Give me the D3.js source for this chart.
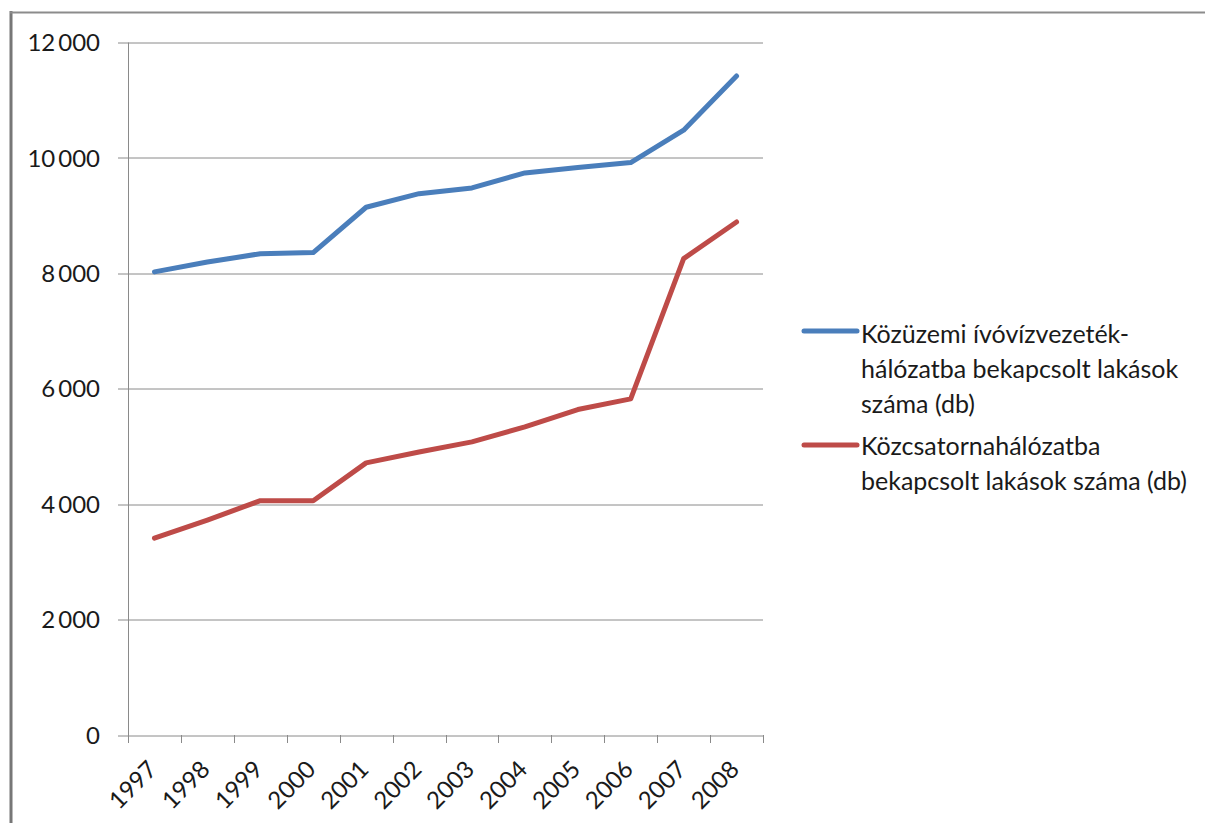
<!DOCTYPE html>
<html>
<head>
<meta charset="utf-8">
<script src="https://cdn.jsdelivr.net/npm/d3@7"></script>
<style>
  body { margin: 0; background: #fff; }
  text { font-family: Lato, "Open Sans", sans-serif; fill: #1a1a1a; }
</style>
</head>
<body>
<script>
// chart data
const years = ['1997', '1998', '1999', '2000', '2001', '2002', '2003', '2004', '2005', '2006', '2007', '2008'];
const water = [8025, 8195, 8340, 8360, 9145, 9380, 9480, 9740, 9835, 9920, 10480, 11420];
const sewer = [3410, 3725, 4060, 4060, 4715, 4905, 5080, 5340, 5640, 5825, 8255, 8890];
const yTicks = [0, 2000, 4000, 6000, 8000, 10000, 12000];
const seriesNames = [
  ['Közüzemi ívóvízvezeték-', 'hálózatba bekapcsolt lakások', 'száma (db)'],
  ['Közcsatornahálózatba', 'bekapcsolt lakások száma (db)']
];
const colors = ['#4a7ebb', '#be4b48'];

const W = 1205, H = 823;
const margin = { top: 42.5, left: 128, right: 442, bottom: 88 };
const width = W - margin.left - margin.right;
const height = H - margin.top - margin.bottom;

const svg = d3.select('body').append('svg')
  .attr('width', W)
  .attr('height', H);

// window frame (left and top borders)
svg.append('line')
  .attr('x1', 11).attr('x2', 11).attr('y1', 11).attr('y2', H)
  .attr('stroke', '#777').attr('stroke-width', 3);
svg.append('line')
  .attr('x1', 10).attr('x2', W).attr('y1', 12.5).attr('y2', 12.5)
  .attr('stroke', '#8c8c8c').attr('stroke-width', 2);

const g = svg.append('g')
  .attr('transform', 'translate(' + margin.left + ',' + margin.top + ')');

const x = d3.scaleBand().domain(years).range([0, width]).padding(0);
const y = d3.scaleLinear().domain([0, 12000]).range([height, 0]);

// gridlines + y ticks
g.selectAll('.grid')
  .data(yTicks)
  .enter().append('line')
  .attr('class', 'grid')
  .attr('x1', -10).attr('x2', width)
  .attr('y1', d => Math.round(y(d)) + 0.5)
  .attr('y2', d => Math.round(y(d)) + 0.5)
  .attr('stroke', '#8a8a8a').attr('stroke-width', 1);

// y axis line
g.append('line')
  .attr('x1', 0.5).attr('x2', 0.5)
  .attr('y1', 0).attr('y2', height)
  .attr('stroke', '#8a8a8a');

// y labels with hungarian thousands separator
const fmt = d => d3.format(',')(d).replace(/,/g, '\u2009');
g.selectAll('.ylab')
  .data(yTicks)
  .enter().append('text')
  .attr('class', 'ylab')
  .attr('x', -28)
  .attr('y', d => y(d))
  .attr('dy', '0.36em')
  .attr('text-anchor', 'end')
  .attr('font-size', '24px')
  .text(fmt);

// x tick marks at category boundaries
const bounds = years.map(d => x(d)).concat([width]);
g.selectAll('.xtick')
  .data(bounds)
  .enter().append('line')
  .attr('class', 'xtick')
  .attr('x1', d => Math.round(d) + 0.5).attr('x2', d => Math.round(d) + 0.5)
  .attr('y1', height).attr('y2', height + 8)
  .attr('stroke', '#8a8a8a');

// x labels rotated
g.selectAll('.xlab')
  .data(years)
  .enter().append('text')
  .attr('class', 'xlab')
  .attr('transform', d => 'translate(' + (x(d) + x.bandwidth() / 2 + 4) + ',' + (height + 36) + ') rotate(-45)')
  .attr('text-anchor', 'end')
  .attr('font-size', '24px')
  .text(d => d);

// lines
const line = d3.line()
  .x((d, i) => x(years[i]) + x.bandwidth() / 2)
  .y(d => y(d));

[water, sewer].forEach((vals, i) => {
  g.append('path')
    .datum(vals)
    .attr('fill', 'none')
    .attr('stroke', colors[i])
    .attr('stroke-width', 5)
    .attr('stroke-linejoin', 'round')
    .attr('stroke-linecap', 'round')
    .attr('d', line);
});

// legend
const legend = svg.append('g');
const legendY = [331, 445];
const baseLines = [[343, 378, 413], [455, 490]];
seriesNames.forEach((lines, i) => {
  legend.append('line')
    .attr('x1', 804).attr('x2', 857)
    .attr('y1', legendY[i]).attr('y2', legendY[i])
    .attr('stroke', colors[i]).attr('stroke-width', 5)
    .attr('stroke-linecap', 'round');
  lines.forEach((t, j) => {
    legend.append('text')
      .attr('x', 861)
      .attr('y', baseLines[i][j])
      .attr('font-size', '25px')
      .text(t);
  });
});
</script>
</body>
</html>
